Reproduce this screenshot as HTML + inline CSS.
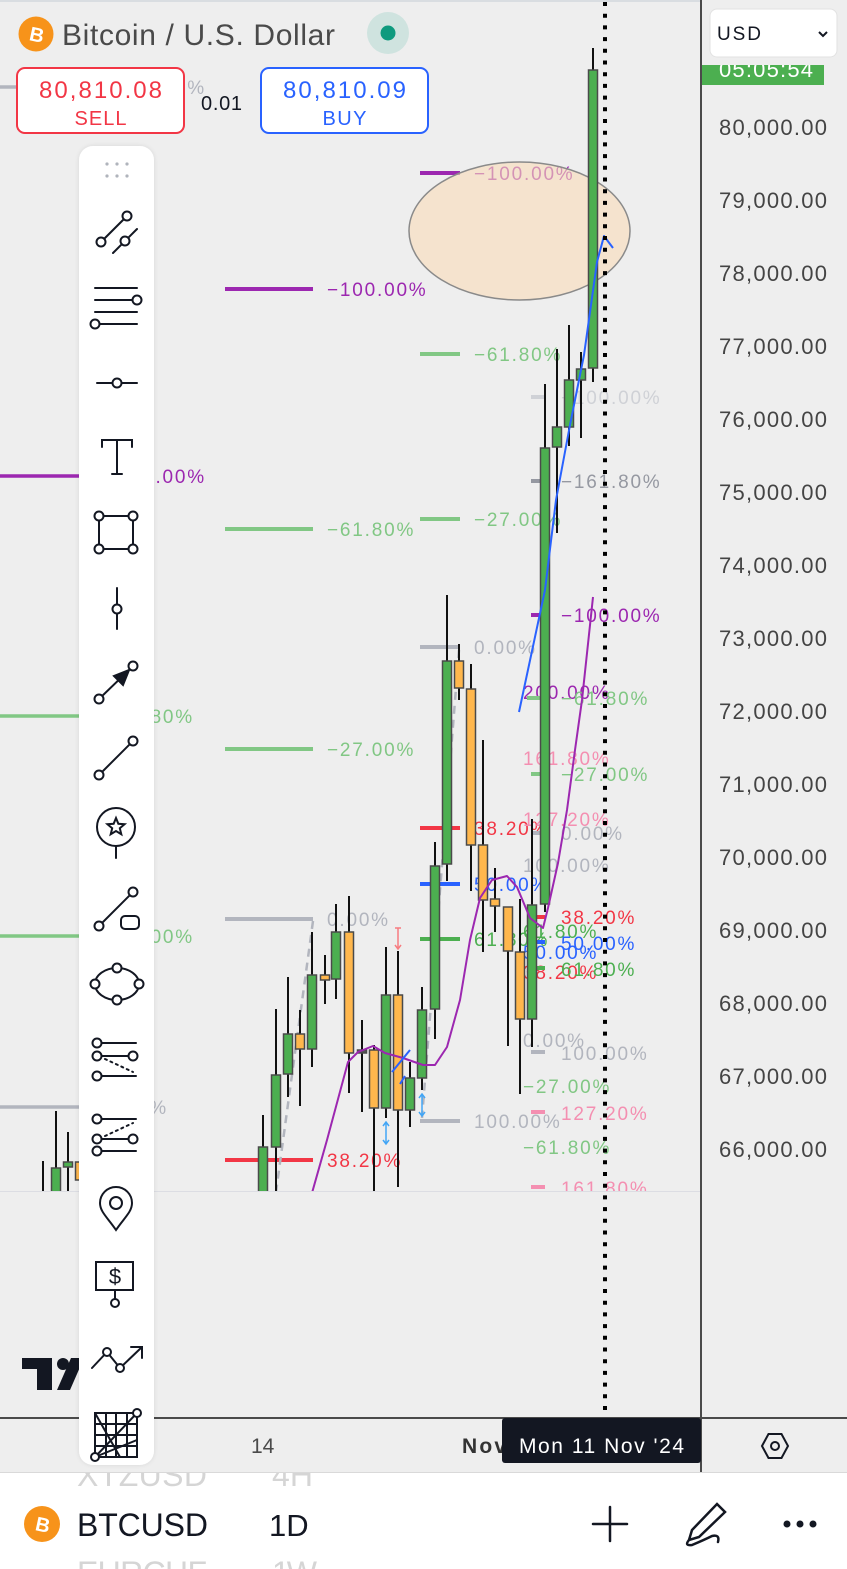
<!DOCTYPE html>
<html><head><meta charset="utf-8">
<style>
html,body{margin:0;padding:0;background:#eeeeee;}
svg{display:block;}
text{font-family:"Liberation Sans",sans-serif;}
.fl{font-size:19px;letter-spacing:1.8px;}
.pa{font-size:22px;fill:#444;}
</style></head><body>
<svg width="847" height="1569" viewBox="0 0 847 1569" xmlns="http://www.w3.org/2000/svg">
<defs>
<clipPath id="cp"><rect x="0" y="0" width="700" height="1192"/></clipPath>
<clipPath id="bb"><rect x="0" y="1473" width="847" height="96"/></clipPath>
<filter id="sh" x="-20%" y="-5%" width="140%" height="110%"><feDropShadow dx="0" dy="0" stdDeviation="2" flood-color="#000" flood-opacity="0.10"/></filter>
</defs>
<rect width="847" height="1569" fill="#eeeeee"/>
<rect x="0" y="0" width="847" height="2" fill="#d9dde1"/>

<g clip-path="url(#cp)">
<!-- left fib -->
<g stroke-width="3.5">
<line x1="0" y1="87" x2="93" y2="87" stroke="#b2b5be"/>
<line x1="0" y1="476" x2="93" y2="476" stroke="#9c27b0"/>
<line x1="0" y1="716" x2="93" y2="716" stroke="#81c784"/>
<line x1="0" y1="936" x2="93" y2="936" stroke="#81c784"/>
<line x1="0" y1="1107" x2="93" y2="1107" stroke="#b2b5be"/>
</g>
<text class="fl" x="206" y="94" text-anchor="end" fill="#b2b5be">−100.00%</text>
<text class="fl" x="206" y="483" text-anchor="end" fill="#9c27b0">−100.00%</text>
<text class="fl" x="194" y="723" text-anchor="end" fill="#81c784">−61.80%</text>
<text class="fl" x="194" y="943" text-anchor="end" fill="#81c784">−27.00%</text>
<text class="fl" x="168" y="1114" text-anchor="end" fill="#b2b5be">0.00%</text>

<!-- fib A -->
<g stroke-width="4">
<line x1="225" y1="289" x2="313" y2="289" stroke="#9c27b0"/>
<line x1="225" y1="529" x2="313" y2="529" stroke="#81c784"/>
<line x1="225" y1="749" x2="313" y2="749" stroke="#81c784"/>
<line x1="225" y1="919" x2="313" y2="919" stroke="#b2b5be"/>
<line x1="225" y1="1160" x2="313" y2="1160" stroke="#f23645"/>
</g>
<line x1="313" y1="921" x2="276" y2="1192" stroke="#b2b5be" stroke-width="2.5" stroke-dasharray="8 6"/>
<text class="fl" x="327" y="296" fill="#9c27b0">−100.00%</text>
<text class="fl" x="327" y="536" fill="#81c784">−61.80%</text>
<text class="fl" x="327" y="756" fill="#81c784">−27.00%</text>
<text class="fl" x="327" y="926" fill="#b2b5be">0.00%</text>
<text class="fl" x="327" y="1167" fill="#f23645">38.20%</text>

<!-- fib B -->
<g stroke-width="4">
<line x1="420" y1="173" x2="460" y2="173" stroke="#9c27b0"/>
<line x1="420" y1="354" x2="460" y2="354" stroke="#81c784"/>
<line x1="420" y1="519" x2="460" y2="519" stroke="#81c784"/>
<line x1="420" y1="647" x2="460" y2="647" stroke="#b2b5be"/>
<line x1="420" y1="828" x2="460" y2="828" stroke="#f23645"/>
<line x1="420" y1="884" x2="460" y2="884" stroke="#2962ff"/>
<line x1="420" y1="939" x2="460" y2="939" stroke="#4caf50"/>
<line x1="420" y1="1121" x2="460" y2="1121" stroke="#b2b5be"/>
</g>
<line x1="459" y1="650" x2="422" y2="1118" stroke="#b2b5be" stroke-width="2.5" stroke-dasharray="8 6"/>
<text class="fl" x="474" y="180" fill="#9c27b0">−100.00%</text>
<text class="fl" x="474" y="361" fill="#81c784">−61.80%</text>
<text class="fl" x="474" y="526" fill="#81c784">−27.00%</text>
<text class="fl" x="474" y="654" fill="#b2b5be">0.00%</text>
<text class="fl" x="474" y="835" fill="#f23645">38.20%</text>
<text class="fl" x="474" y="891" fill="#2962ff">50.00%</text>
<text class="fl" x="474" y="946" fill="#4caf50">61.80%</text>
<text class="fl" x="474" y="1128" fill="#b2b5be">100.00%</text>

<!-- fib C -->
<text class="fl" x="523" y="699" fill="#9c27b0">200.00%</text>
<text class="fl" x="523" y="765" fill="#f48fb1">161.80%</text>
<text class="fl" x="523" y="826" fill="#f48fb1">127.20%</text>
<text class="fl" x="523" y="872" fill="#b2b5be">100.00%</text>
<text class="fl" x="523" y="938" fill="#4caf50">61.80%</text>
<text class="fl" x="523" y="959" fill="#2962ff">50.00%</text>
<text class="fl" x="523" y="979" fill="#f23645">38.20%</text>
<text class="fl" x="523" y="1047" fill="#b2b5be">0.00%</text>
<text class="fl" x="523" y="1093" fill="#81c784">−27.00%</text>
<text class="fl" x="523" y="1154" fill="#81c784">−61.80%</text>

<!-- fib D -->
<g stroke-width="4">
<line x1="531" y1="397" x2="545" y2="397" stroke="#cfd1d6"/>
<line x1="531" y1="481" x2="545" y2="481" stroke="#9598a1"/>
<line x1="531" y1="615" x2="545" y2="615" stroke="#9c27b0"/>
<line x1="527" y1="698" x2="545" y2="698" stroke="#81c784"/>
<line x1="531" y1="774" x2="545" y2="774" stroke="#81c784"/>
<line x1="531" y1="833" x2="545" y2="833" stroke="#b2b5be"/>
<line x1="531" y1="917" x2="545" y2="917" stroke="#f23645"/>
<line x1="531" y1="942" x2="545" y2="942" stroke="#2962ff"/>
<line x1="531" y1="968" x2="545" y2="968" stroke="#4caf50"/>
<line x1="531" y1="1052" x2="545" y2="1052" stroke="#b2b5be"/>
<line x1="531" y1="1112" x2="545" y2="1112" stroke="#f48fb1"/>
<line x1="531" y1="1187" x2="545" y2="1187" stroke="#f48fb1"/>
</g>
<text class="fl" x="561" y="404" fill="#cfd1d6">−100.00%</text>
<text class="fl" x="561" y="488" fill="#9598a1">−161.80%</text>
<text class="fl" x="561" y="622" fill="#9c27b0">−100.00%</text>
<text class="fl" x="561" y="705" fill="#81c784">−61.80%</text>
<text class="fl" x="561" y="781" fill="#81c784">−27.00%</text>
<text class="fl" x="561" y="840" fill="#b2b5be">0.00%</text>
<text class="fl" x="561" y="924" fill="#f23645">38.20%</text>
<text class="fl" x="561" y="950" fill="#2962ff">50.00%</text>
<text class="fl" x="561" y="976" fill="#4caf50">61.80%</text>
<text class="fl" x="561" y="1060" fill="#b2b5be">100.00%</text>
<text class="fl" x="561" y="1120" fill="#f48fb1">127.20%</text>
<text class="fl" x="561" y="1195" fill="#f48fb1">161.80%</text>

<!-- ellipse -->
<ellipse cx="519.5" cy="231" rx="110.5" ry="69" fill="rgb(250,220,185)" fill-opacity="0.6" stroke="#8a8a8a" stroke-width="1.5"/>

<!-- small arrows -->
<g stroke-width="1.5" fill="none">
<path d="M386 1123 V1143 M383 1126 L386 1122 L389 1126 M383 1140 L386 1144 L389 1140" stroke="#42a5f5"/>
<path d="M422 1095 V1115 M419 1098 L422 1094 L425 1098 M419 1112 L422 1116 L425 1112" stroke="#42a5f5"/>
<path d="M398 928 V948 M395 928 H401 M395 945 L398 949 L401 945" stroke="#f77c80"/>
</g>

<!-- candles: wicks -->
<g stroke="#111" stroke-width="2">
<line x1="43" y1="1161" x2="43" y2="1200"/>
<line x1="56" y1="1111" x2="56" y2="1200"/>
<line x1="68" y1="1132" x2="68" y2="1200"/>
<line x1="80" y1="1150" x2="80" y2="1200"/>
<line x1="263" y1="1115" x2="263" y2="1200"/>
<line x1="276" y1="1009" x2="276" y2="1200"/>
<line x1="288" y1="977" x2="288" y2="1097"/>
<line x1="300" y1="1010" x2="300" y2="1106"/>
<line x1="312" y1="932" x2="312" y2="1067"/>
<line x1="325" y1="955" x2="325" y2="1004"/>
<line x1="336" y1="904" x2="336" y2="999"/>
<line x1="349" y1="896" x2="349" y2="1093"/>
<line x1="362" y1="1020" x2="362" y2="1112"/>
<line x1="374" y1="1045" x2="374" y2="1200"/>
<line x1="386" y1="947" x2="386" y2="1118"/>
<line x1="398" y1="951" x2="398" y2="1187"/>
<line x1="410" y1="1062" x2="410" y2="1127"/>
<line x1="422" y1="987" x2="422" y2="1090"/>
<line x1="435" y1="842" x2="435" y2="1039"/>
<line x1="447" y1="595" x2="447" y2="881"/>
<line x1="459" y1="644" x2="459" y2="700"/>
<line x1="471" y1="664" x2="471" y2="891"/>
<line x1="483" y1="740" x2="483" y2="952"/>
<line x1="495" y1="868" x2="495" y2="932"/>
<line x1="508" y1="907" x2="508" y2="1046"/>
<line x1="520" y1="899" x2="520" y2="1094"/>
<line x1="532" y1="819" x2="532" y2="1047"/>
<line x1="545" y1="384" x2="545" y2="912"/>
<line x1="557" y1="349" x2="557" y2="533"/>
<line x1="569" y1="325" x2="569" y2="446"/>
<line x1="581" y1="352" x2="581" y2="438"/>
<line x1="593" y1="48" x2="593" y2="382"/>
</g>
<!-- candles: bodies -->
<g stroke="#4a4a4a" stroke-width="1.5">
<rect x="51.5" y="1168" width="9" height="32" fill="#4caf50"/>
<rect x="63.5" y="1162" width="9" height="5" fill="#4caf50"/>
<rect x="75.5" y="1162" width="9" height="18" fill="#ffb74d"/>
<rect x="258.5" y="1147" width="9" height="53" fill="#4caf50"/>
<rect x="271.5" y="1075" width="9" height="72" fill="#4caf50"/>
<rect x="283.5" y="1034" width="9" height="40" fill="#4caf50"/>
<rect x="295.5" y="1034" width="9" height="15" fill="#ffb74d"/>
<rect x="307.5" y="975" width="9" height="74" fill="#4caf50"/>
<rect x="320.5" y="975" width="9" height="5" fill="#ffb74d"/>
<rect x="331.5" y="932" width="9" height="47" fill="#4caf50"/>
<rect x="344.5" y="932" width="9" height="121" fill="#ffb74d"/>
<rect x="357.5" y="1050" width="9" height="3" fill="#555"/>
<rect x="369.5" y="1050" width="9" height="58" fill="#ffb74d"/>
<rect x="381.5" y="995" width="9" height="113" fill="#4caf50"/>
<rect x="393.5" y="995" width="9" height="115" fill="#ffb74d"/>
<rect x="405.5" y="1078" width="9" height="32" fill="#4caf50"/>
<rect x="417.5" y="1010" width="9" height="68" fill="#4caf50"/>
<rect x="430.5" y="866" width="9" height="143" fill="#4caf50"/>
<rect x="442.5" y="661" width="9" height="203" fill="#4caf50"/>
<rect x="454.5" y="661" width="9" height="27" fill="#ffb74d"/>
<rect x="466.5" y="689" width="9" height="156" fill="#ffb74d"/>
<rect x="478.5" y="845" width="9" height="55" fill="#ffb74d"/>
<rect x="490.5" y="899" width="9" height="7" fill="#ffb74d"/>
<rect x="503.5" y="907" width="9" height="44" fill="#ffb74d"/>
<rect x="515.5" y="952" width="9" height="67" fill="#ffb74d"/>
<rect x="527.5" y="905" width="9" height="114" fill="#4caf50"/>
<rect x="540.5" y="448" width="9" height="456" fill="#4caf50"/>
<rect x="552.5" y="427" width="9" height="20" fill="#4caf50"/>
<rect x="564.5" y="380" width="9" height="47" fill="#4caf50"/>
<rect x="576.5" y="369" width="9" height="11" fill="#4caf50"/>
<rect x="588.5" y="70" width="9" height="298" fill="#4caf50"/>
</g>

<!-- MA purple -->
<polyline fill="none" stroke="#9c27b0" stroke-width="2" stroke-linejoin="round" points="310,1200 327,1140 348,1062 358,1052 373,1046 385,1053 403,1058 423,1065 435,1065 447,1047 460,1000 470,940 480,898 492,880 507,876 517,887 530,918 543,928 548,908 558,863 567,810 575,750 582,700 593,597"/>
<!-- blue trend -->
<polyline fill="none" stroke="#2962ff" stroke-width="2" stroke-linejoin="round" points="519,712 545,590 556,500 570,425 584,355 597,262 604,236 613,248"/>
<line x1="392" y1="1072" x2="410" y2="1050" stroke="#2962ff" stroke-width="2"/>
<line x1="400" y1="1084" x2="405" y2="1076" stroke="#2962ff" stroke-width="2"/>
<line x1="0" y1="1191.5" x2="700" y2="1191.5" stroke="#dcdde3" stroke-width="1"/>
</g>

<!-- dotted vertical line -->
<line x1="605" y1="2" x2="605" y2="1414" stroke="#000" stroke-width="4" stroke-dasharray="4 7.7"/>

<!-- axes lines -->
<line x1="701" y1="0" x2="701" y2="1472" stroke="#4a4a4a" stroke-width="2"/>
<line x1="0" y1="1418" x2="847" y2="1418" stroke="#4a4a4a" stroke-width="2"/>

<!-- price axis -->
<rect x="702" y="44" width="122" height="41" fill="#4caf50"/>
<text x="719" y="77" font-size="22" fill="#fff" textLength="94">05:05:54</text>
<rect x="702" y="0" width="145" height="65" fill="#eeeeee"/>
<rect x="710" y="9" width="127" height="48" rx="7" fill="#fff" stroke="#e2e2e2" stroke-width="1"/>
<text x="717" y="40" font-size="19" fill="#131722" textLength="44">USD</text>
<path d="M819 32 L823 36 L827 32" fill="none" stroke="#131722" stroke-width="2"/>
<g class="pa">
<text class="pa" x="719" y="135" textLength="108">80,000.00</text>
<text class="pa" x="719" y="208" textLength="108">79,000.00</text>
<text class="pa" x="719" y="281" textLength="108">78,000.00</text>
<text class="pa" x="719" y="354" textLength="108">77,000.00</text>
<text class="pa" x="719" y="427" textLength="108">76,000.00</text>
<text class="pa" x="719" y="500" textLength="108">75,000.00</text>
<text class="pa" x="719" y="573" textLength="108">74,000.00</text>
<text class="pa" x="719" y="646" textLength="108">73,000.00</text>
<text class="pa" x="719" y="719" textLength="108">72,000.00</text>
<text class="pa" x="719" y="792" textLength="108">71,000.00</text>
<text class="pa" x="719" y="865" textLength="108">70,000.00</text>
<text class="pa" x="719" y="938" textLength="108">69,000.00</text>
<text class="pa" x="719" y="1011" textLength="108">68,000.00</text>
<text class="pa" x="719" y="1084" textLength="108">67,000.00</text>
<text class="pa" x="719" y="1157" textLength="108">66,000.00</text>
</g>

<!-- header -->
<circle cx="36" cy="34" r="17.5" fill="#f7931a"/>
<text x="37" y="41.5" font-size="20" font-weight="bold" fill="#fff" text-anchor="middle" transform="rotate(12 36 34)">B</text>
<text x="62" y="45" font-size="30" fill="#4a4a4a" textLength="273">Bitcoin / U.S. Dollar</text>
<circle cx="388" cy="33" r="21" fill="#cfe3df"/>
<circle cx="388" cy="33" r="7.5" fill="#0e9a7e"/>

<rect x="17" y="68" width="167" height="65" rx="8" fill="#fff" stroke="#f23645" stroke-width="2"/>
<text x="100.5" y="98" font-size="24" fill="#f23645" text-anchor="middle" textLength="123">80,810.08</text>
<text x="100.5" y="125" font-size="20" fill="#f23645" text-anchor="middle" textLength="52">SELL</text>
<text x="201" y="110" font-size="20" fill="#131722" textLength="41">0.01</text>
<rect x="261" y="68" width="167" height="65" rx="8" fill="#fff" stroke="#2962ff" stroke-width="2"/>
<text x="344.5" y="98" font-size="24" fill="#2962ff" text-anchor="middle" textLength="123">80,810.09</text>
<text x="344.5" y="125" font-size="20" fill="#2962ff" text-anchor="middle" textLength="44">BUY</text>

<!-- TV logo -->
<g fill="#131722">
<rect x="22" y="1358" width="30" height="11"/>
<rect x="37" y="1358" width="15" height="32"/>
<circle cx="63" cy="1364" r="6"/>
<polygon points="57,1390 70,1390 84,1358 71,1358"/>
</g>

<!-- time axis -->
<text x="251" y="1453" font-size="21" fill="#4a4a4a">14</text>
<text x="462" y="1453" font-size="21" font-weight="bold" fill="#333" textLength="44">Nov</text>
<rect x="502" y="1418" width="199" height="45" rx="3" fill="#131722"/>
<text x="519" y="1453" font-size="21" fill="#fff" textLength="165">Mon 11 Nov '24</text>
<polygon points="762,1446 768.5,1434 781.5,1434 788,1446 781.5,1458 768.5,1458" fill="none" stroke="#131722" stroke-width="2"/>
<circle cx="775" cy="1446" r="4" fill="none" stroke="#131722" stroke-width="2"/>

<!-- toolbar -->
<rect x="79" y="146" width="75" height="1319" rx="14" fill="#fff" filter="url(#sh)"/>
<g fill="#b0b4bc">
<circle cx="107" cy="164" r="1.6"/><circle cx="117" cy="164" r="1.6"/><circle cx="127" cy="164" r="1.6"/>
<circle cx="107" cy="176" r="1.6"/><circle cx="117" cy="176" r="1.6"/><circle cx="127" cy="176" r="1.6"/>
</g>
<g stroke="#131722" stroke-width="2" fill="none" stroke-linecap="round">
<line x1="101" y1="242" x2="127" y2="216"/>
<line x1="113" y1="253" x2="137" y2="229"/>
<circle cx="101" cy="242" r="4.5" fill="#fff"/><circle cx="127" cy="216" r="4.5" fill="#fff"/><circle cx="125" cy="241" r="4.5" fill="#fff"/>

<line x1="95" y1="288" x2="137" y2="288"/>
<line x1="95" y1="300" x2="133" y2="300"/>
<line x1="95" y1="312" x2="137" y2="312"/>
<line x1="99" y1="324" x2="137" y2="324"/>
<circle cx="137" cy="300" r="4.5" fill="#fff"/><circle cx="95" cy="324" r="4.5" fill="#fff"/>

<line x1="97" y1="383" x2="137" y2="383"/>
<circle cx="117" cy="383" r="4.5" fill="#fff"/>

<path d="M102 447 V440 H132 V447 M117 440 V474 M112 474 H122"/>

<rect x="99" y="516" width="34" height="33"/>
<circle cx="99" cy="516" r="4.5" fill="#fff"/><circle cx="133" cy="516" r="4.5" fill="#fff"/>
<circle cx="99" cy="549" r="4.5" fill="#fff"/><circle cx="133" cy="549" r="4.5" fill="#fff"/>

<line x1="117" y1="588" x2="117" y2="629"/>
<circle cx="117" cy="609" r="4.5" fill="#fff"/>

<line x1="99" y1="699" x2="129" y2="670"/>
<polygon points="129,670 114,676 123,685" fill="#131722"/>
<circle cx="133" cy="666" r="4.5" fill="#fff"/><circle cx="99" cy="699" r="4.5" fill="#fff"/>

<line x1="99" y1="775" x2="133" y2="741"/>
<circle cx="99" cy="775" r="4.5" fill="#fff"/><circle cx="133" cy="741" r="4.5" fill="#fff"/>

<circle cx="116" cy="827" r="19"/>
<path d="M116 818 L118.35 823.76 L124.56 824.22 L119.8 828.24 L121.29 834.28 L116 831 L110.71 834.28 L112.2 828.24 L107.44 824.22 L113.65 823.76 Z"/>
<line x1="116" y1="846" x2="116" y2="858"/>

<line x1="99" y1="926" x2="133" y2="892"/>
<circle cx="99" cy="926" r="4.5" fill="#fff"/><circle cx="133" cy="892" r="4.5" fill="#fff"/>
<rect x="121" y="916" width="18" height="13" rx="4"/>

<ellipse cx="117" cy="984" rx="22" ry="16"/>
<circle cx="117" cy="968" r="4.5" fill="#fff"/><circle cx="117" cy="1000" r="4.5" fill="#fff"/>
<circle cx="95" cy="984" r="4.5" fill="#fff"/><circle cx="139" cy="984" r="4.5" fill="#fff"/>

<line x1="97" y1="1043" x2="136" y2="1043"/>
<line x1="97" y1="1056" x2="133" y2="1056"/>
<line x1="97" y1="1076" x2="136" y2="1076"/>
<line x1="105" y1="1059" x2="133" y2="1072" stroke-dasharray="2 4"/>
<circle cx="97" cy="1043" r="4.5" fill="#fff"/><circle cx="97" cy="1056" r="4.5" fill="#fff"/>
<circle cx="133" cy="1056" r="4.5" fill="#fff"/><circle cx="97" cy="1076" r="4.5" fill="#fff"/>

<line x1="97" y1="1119" x2="136" y2="1119"/>
<line x1="97" y1="1139" x2="133" y2="1139"/>
<line x1="97" y1="1151" x2="136" y2="1151"/>
<line x1="105" y1="1136" x2="133" y2="1123" stroke-dasharray="2 4"/>
<circle cx="97" cy="1119" r="4.5" fill="#fff"/><circle cx="97" cy="1139" r="4.5" fill="#fff"/>
<circle cx="133" cy="1139" r="4.5" fill="#fff"/><circle cx="97" cy="1151" r="4.5" fill="#fff"/>

<path d="M116 1230 C108 1218 100 1212 100 1203 A16 16 0 0 1 132 1203 C132 1212 124 1218 116 1230 Z"/>
<circle cx="116" cy="1203" r="6"/>

<rect x="96" y="1262" width="37" height="28"/>
<line x1="115" y1="1290" x2="115" y2="1299"/>
<circle cx="115" cy="1303" r="4" fill="#fff"/>

<polyline points="92,1368 107,1352 120,1368 142,1347"/>
<polyline points="131,1347 142,1347 142,1358"/>
<circle cx="107" cy="1352" r="4" fill="#fff"/><circle cx="120" cy="1368" r="4" fill="#fff"/>

<rect x="95" y="1413" width="42" height="44"/>
<line x1="106" y1="1413" x2="106" y2="1457"/><line x1="116" y1="1413" x2="116" y2="1457"/><line x1="127" y1="1413" x2="127" y2="1457"/>
<line x1="95" y1="1424" x2="137" y2="1424"/><line x1="95" y1="1435" x2="137" y2="1435"/><line x1="95" y1="1446" x2="137" y2="1446"/>
<line x1="95" y1="1457" x2="137" y2="1413"/><line x1="95" y1="1457" x2="137" y2="1440"/><line x1="95" y1="1413" x2="120" y2="1457"/>
<circle cx="137" cy="1413" r="4" fill="#fff"/><circle cx="95" cy="1457" r="4" fill="#fff"/>
</g>
<text x="115" y="1284" font-size="22" fill="#131722" text-anchor="middle">$</text>

<!-- bottom bar -->
<rect x="0" y="1472" width="847" height="97" fill="#fff"/>
<line x1="0" y1="1472.5" x2="847" y2="1472.5" stroke="#d9d9d9" stroke-width="1"/>
<g clip-path="url(#bb)" fill="#d5d5d5" font-size="32">
<text x="77" y="1486" textLength="130">XTZUSD</text>
<text x="272" y="1486" textLength="41">4H</text>
<text x="77" y="1584" textLength="130">EURCHF</text>
<text x="272" y="1584" textLength="45">1W</text>
</g>
<circle cx="42" cy="1524" r="18" fill="#f7931a"/>
<text x="43" y="1531.5" font-size="20" font-weight="bold" fill="#fff" text-anchor="middle" transform="rotate(12 42 1524)">B</text>
<text x="77" y="1536" font-size="32" fill="#131722" textLength="131">BTCUSD</text>
<text x="269" y="1536" font-size="31" fill="#131722">1D</text>
<g stroke="#131722" stroke-width="2.5" fill="none" stroke-linecap="round">
<line x1="593" y1="1524" x2="627" y2="1524"/>
<line x1="610" y1="1507" x2="610" y2="1541"/>
<path d="M717 1504 L725 1512 L699 1537 L689 1540 L692 1530 Z"/>
<path d="M689 1540 Q684 1546 692 1545 Q704 1540 712 1536 Q720 1534 718 1542"/>
</g>
<g fill="#131722">
<circle cx="787" cy="1524" r="3.5"/><circle cx="800" cy="1524" r="3.5"/><circle cx="813" cy="1524" r="3.5"/>
</g>
</svg>
</body></html>
